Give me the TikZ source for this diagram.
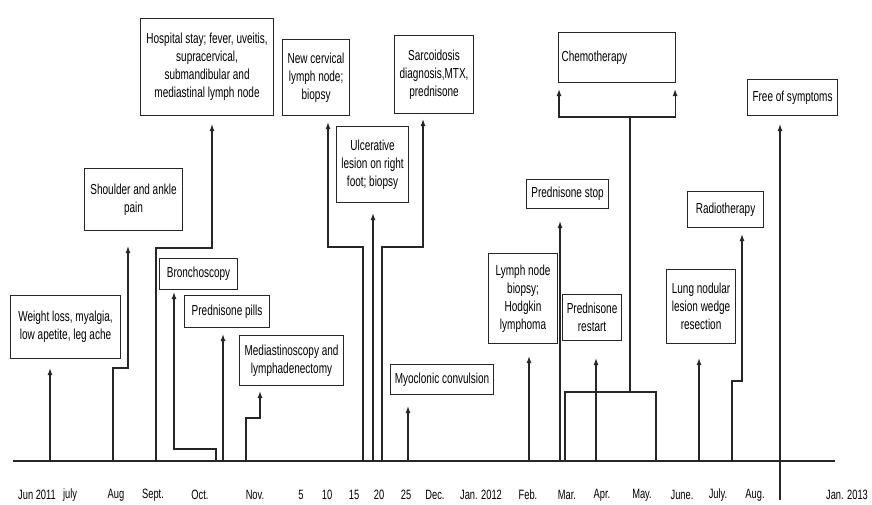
\documentclass[tikz,border=0pt]{standalone}
\usepackage{fontspec}
\setmainfont{Liberation Sans}[FakeStretch=0.69]
\usetikzlibrary{arrows.meta,calc}
\begin{document}
\begin{tikzpicture}[x=1pt,y=-1pt,
  box/.style={draw=black!85, line width=1.1pt, inner sep=0pt, align=center, anchor=north west, font=\fontsize{14.5}{18}\selectfont},
  conn/.style={draw=black!85, line width=1.1pt, -{Latex[length=7pt,width=5pt]}},
  plain/.style={draw=black!85, line width=1.1pt},
  lab/.style={font=\fontsize{13.5}{15}\selectfont, inner sep=0pt}]
\useasboundingbox (0,0) rectangle (872,504);
% boxes
\node[box, minimum width=110pt, minimum height=63pt] (w) at (10,295) {Weight loss, myalgia,\\ low apetite, leg ache};
\node[box, minimum width=98pt, minimum height=62pt] (s) at (84,168) {Shoulder and ankle\\ pain};
\node[box, minimum width=133pt, minimum height=97pt] (h) at (140,18) {Hospital stay; fever, uveitis,\\ supracervical,\\ submandibular and\\ mediastinal lymph node};
\node[box, minimum width=78pt, minimum height=31pt] (b) at (159,258) {Bronchoscopy};
\node[box, minimum width=85pt, minimum height=32pt] (p) at (184,295) {Prednisone pills};
\node[box, minimum width=104pt, minimum height=50pt] (m) at (239,335) {Mediastinoscopy and\\ lymphadenectomy};
\node[box, minimum width=67pt, minimum height=76pt] (n) at (282,39) {New cervical\\ lymph node;\\ biopsy};
\node[box, minimum width=72pt, minimum height=76pt] (u) at (336,126) {Ulcerative\\ lesion on right\\ foot; biopsy};
\node[box, minimum width=79pt, minimum height=78pt] (sa) at (394,35) {Sarcoidosis\\ diagnosis,MTX,\\ prednisone};
\node[box, minimum width=103pt, minimum height=30pt] (my) at (390,364) {Myoclonic convulsion};
\node[box, minimum width=69pt, minimum height=90pt] (l) at (488,253) {Lymph node\\ biopsy;\\ Hodgkin\\ lymphoma};
\node[box, minimum width=82pt, minimum height=29pt] (ps) at (526,179) {Prednisone stop};
\node[box, minimum width=117pt, minimum height=50pt, inner xsep=3pt, text width=111pt, align=left] (c) at (558,32) {Chemotherapy};
\node[box, minimum width=59pt, minimum height=46pt] (pr) at (562,294) {Prednisone\\ restart};
\node[box, minimum width=69pt, minimum height=74pt] (ln) at (666,269) {Lung nodular\\ lesion wedge\\ resection};
\node[box, minimum width=76pt, minimum height=36pt] (r) at (687,191) {Radiotherapy};
\node[box, minimum width=90pt, minimum height=36pt] (f) at (747,79) {Free of symptoms};
% axis
\coordinate (ax1) at (13,461);
\coordinate (ax2) at (835,461);
\draw[line width=1.8pt, black!85] (ax1) -- (ax2);
% coordinates on axis and elbows
\coordinate (a1) at (50,461);
\coordinate (a2) at (113,461); \coordinate (k2) at (128,368);
\coordinate (a3) at (156,461); \coordinate (k3) at (212,248);
\coordinate (a4) at (216,461); \coordinate (k4) at (174,449);
\coordinate (a5) at (223,461);
\coordinate (a6) at (246,461); \coordinate (k6) at (260,418);
\coordinate (a7) at (363,461); \coordinate (k7) at (328,247);
\coordinate (a8) at (373,461);
\coordinate (a9) at (382,461); \coordinate (k9) at (423,247);
\coordinate (a10) at (408,461);
\coordinate (a11) at (529,461);
\coordinate (a12) at (560,461);
\coordinate (cl) at (565,461); \coordinate (cr) at (656,461); \coordinate (ct) at (630,392);
\coordinate (cj) at (630,117);
\coordinate (a14) at (596,461);
\coordinate (a15) at (699,461);
\coordinate (a16) at (732,461); \coordinate (k16) at (742,381);
\coordinate (a17) at (780,500);
% connectors
\draw[conn, shorten >=9pt] (a1) -- (a1 |- w.south);
\draw[conn, shorten >=15pt] (a2) |- (k2) -- (k2 |- s.south);
\draw[conn, shorten >=8pt] (a3) |- (k3) -- (k3 |- h.south);
\draw[conn, shorten >=2pt] (a4) |- (k4) -- (k4 |- b.south);
\draw[conn, shorten >=6pt] (a5) -- (a5 |- p.south);
\draw[conn, shorten >=5pt] (a6) |- (k6) -- (k6 |- m.south);
\draw[conn, shorten >=6pt] (a7) |- (k7) -- (k7 |- n.south);
\draw[conn, shorten >=10pt] (a8) -- (a8 |- u.south);
\draw[conn, shorten >=5pt] (a9) |- (k9) -- (k9 |- sa.south);
\draw[conn, shorten >=11pt] (a10) -- (a10 |- my.south);
\draw[conn, shorten >=12pt] (a11) -- (a11 |- l.south);
\draw[conn, shorten >=12pt] (a12) -- (a12 |- ps.south);
\draw[plain] (cl) |- (ct) -| (cr);
\draw[plain] (ct) -- (cj);
\draw[plain] (c.south west |- cj) -- (c.south east |- cj);
\draw[conn, shorten >=6pt] ([xshift=1pt]c.south west |- cj) -- ([xshift=1pt]c.south west);
\draw[conn, shorten >=6pt] ([xshift=-1pt]c.south east |- cj) -- ([xshift=-1pt]c.south east);
\draw[conn, shorten >=17pt] (a14) -- (a14 |- pr.south);
\draw[conn, shorten >=14pt] (a15) -- (a15 |- ln.south);
\draw[conn, shorten >=6pt] (a16) |- (k16) -- (k16 |- r.south);
\draw[conn, shorten >=8pt] (a17) -- (a17 |- f.south);
% labels
\node[lab] (t1) at (37,495) {Jun 2011};
\node[lab] (t2) at (70,495) {july};
\node[lab] (t3) at (116,495) {Aug};
\node[lab] (t4) at (153,495) {Sept.};
\node[lab] (t5) at (200,495) {Oct.};
\node[lab] (t6) at (255,495) {Nov.};
\node[lab] (t7) at (301,495) {5};
\node[lab] (t8) at (327,495) {10};
\node[lab] (t9) at (354,495) {15};
\node[lab] (t10) at (379,495) {20};
\node[lab] (t11) at (406,495) {25};
\node[lab] (t12) at (435,495) {Dec.};
\node[lab] (t13) at (481,495) {Jan. 2012};
\node[lab] (t14) at (528,495) {Feb.};
\node[lab] (t15) at (567,495) {Mar.};
\node[lab] (t16) at (602,495) {Apr.};
\node[lab] (t17) at (642,495) {May.};
\node[lab] (t18) at (682,495) {June.};
\node[lab] (t19) at (718,495) {July.};
\node[lab] (t20) at (755,495) {Aug.};
\node[lab] (t21) at (847,495) {Jan. 2013};
\end{tikzpicture}
\end{document}
